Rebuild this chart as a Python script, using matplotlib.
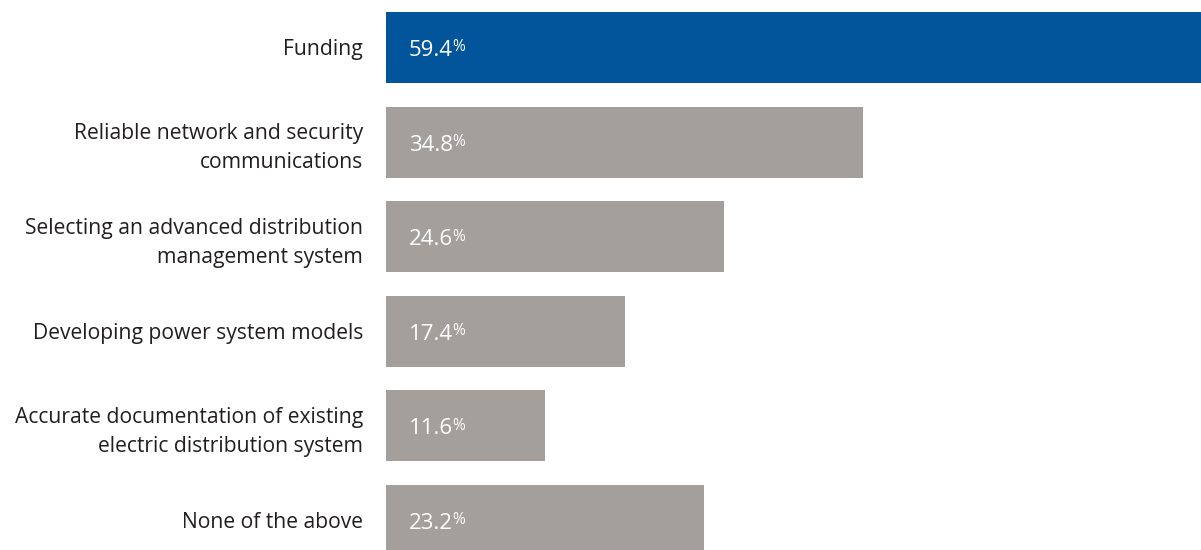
import matplotlib.pyplot as plt
import numpy as np

# Survey answers and shares (%)
categories = [
    "Funding",
    "Reliable network and security\ncommunications",
    "Selecting an advanced distribution\nmanagement system",
    "Developing power system models",
    "Accurate documentation of existing\nelectric distribution system",
    "None of the above",
]
values = [59.4, 34.8, 24.6, 17.4, 11.6, 23.2]

BLUE = "#02559a"
GRAY = "#a59f9c"
TEXT = "#231f20"

plt.rcParams["font.family"] = ["Open Sans", "DejaVu Sans"]

fig = plt.figure(figsize=(12.01, 5.5), dpi=100)
ax = fig.add_axes([386 / 1201, 0, 815 / 1201, 1])

y = np.arange(len(categories))
colors = [BLUE] + [GRAY] * (len(categories) - 1)
ax.barh(y, values, height=0.75, color=colors, edgecolor="none")

ax.set_xlim(0, 59.4)
ax.set_ylim(5.312, -0.502)
ax.axis("off")

# category labels, right aligned left of the bars
for yi, cat in zip(y, categories):
    dy = -6 if "\n" in cat else -2
    ax.annotate(cat, (0, yi), xytext=(-23, dy), textcoords="offset pixels",
                ha="right", va="center", fontsize=15.2, color=TEXT,
                linespacing=1.5, annotation_clip=False)

# value labels: number plus a smaller raised percent sign
num_texts = []
for yi, v in zip(y, values):
    t = ax.annotate(f"{v:.1f}", (0, yi), xytext=(23, -8.5), textcoords="offset pixels",
                    ha="left", va="baseline", fontsize=16, color="white")
    num_texts.append(t)

fig.canvas.draw()
renderer = fig.canvas.get_renderer()
for yi, t in zip(y, num_texts):
    bb = t.get_window_extent(renderer)
    x0 = ax.transData.inverted().transform((bb.x1 - 1, 0))[0]
    ax.annotate("%", (x0, yi), xytext=(0, -4), textcoords="offset pixels",
                ha="left", va="baseline", fontsize=11.2, color="white")

fig.savefig("out.png", dpi=100, facecolor="white")
